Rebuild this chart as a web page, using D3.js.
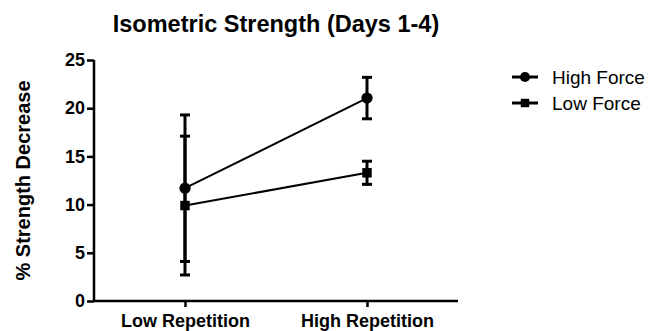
<!DOCTYPE html>
<html>
<head>
<meta charset="utf-8">
<script src="https://cdn.jsdelivr.net/npm/d3@7"></script>
<style>
  body { margin: 0; background: #fff; }
  text { font-family: "Liberation Sans", Arial, sans-serif; fill: #000; }
</style>
</head>
<body>
<svg id="chart" width="663" height="331"></svg>
<script>
const categories = ['Low Repetition', 'High Repetition']
const seriesNames = ['High Force', 'Low Force']
const highForce = [11.7, 21.05]
const highForceErr = [7.6, 2.15]
const lowForce = [9.9, 13.3]
const lowForceErr = [7.2, 1.2]
const yTicks = [0, 5, 10, 15, 20, 25]

let svg = d3.select('#chart')
let plotLeft = 94, plotRight = 458, plotTop = 60, plotBottom = 301

let x = d3.scalePoint().domain(categories).range([plotLeft, plotRight]).padding(0.5)
let y = d3.scaleLinear().domain([0, 25]).range([plotBottom, plotTop])

let series = [
  { name: seriesNames[0], values: highForce, err: highForceErr, shape: d3.symbolCircle, size: 100 },
  { name: seriesNames[1], values: lowForce, err: lowForceErr, shape: d3.symbolSquare, size: 90 }
]

// axes
let yAxis = svg.append('g')
  .attr('transform', `translate(${plotLeft},0)`)
  .call(d3.axisLeft(y).tickValues(yTicks).tickSize(7).tickPadding(2))
let xAxis = svg.append('g')
  .attr('transform', `translate(0,${plotBottom})`)
  .call(d3.axisBottom(x).tickSize(6).tickPadding(5))

;[yAxis, xAxis].forEach(ax => {
  ax.select('.domain').attr('stroke', '#000').attr('stroke-width', 2.5)
  ax.selectAll('.tick line').attr('stroke', '#000').attr('stroke-width', 2.5)
  ax.selectAll('text')
    .style('font-family', '"Liberation Sans", Arial, sans-serif')
    .style('font-weight', 'bold')
    .style('font-size', '18px')
    .attr('fill', '#000')
})
// squared-off domain (no outer ticks)
yAxis.select('.domain').attr('d', `M0,${plotTop}V${plotBottom}`)
xAxis.select('.domain').attr('d', `M${plotLeft},0H${plotRight}`)
xAxis.selectAll('text').attr('dy', '0.85em')

// lines between points
let line = d3.line().x((d, i) => x(categories[i])).y(d => y(d))
series.forEach(s => {
  svg.append('path')
    .attr('d', line(s.values))
    .attr('fill', 'none')
    .attr('stroke', '#000')
    .attr('stroke-width', 2)
})

// error bars
series.forEach(s => {
  let g = svg.append('g')
  s.values.forEach((v, i) => {
    let cx = x(categories[i])
    let lo = y(v - s.err[i]), hi = y(v + s.err[i])
    g.append('line').attr('x1', cx).attr('x2', cx).attr('y1', lo).attr('y2', hi)
      .attr('stroke', '#000').attr('stroke-width', 3)
    ;[lo, hi].forEach(yy => {
      g.append('line').attr('x1', cx - 5).attr('x2', cx + 5).attr('y1', yy).attr('y2', yy)
        .attr('stroke', '#000').attr('stroke-width', 3)
    })
  })
})

// markers
series.forEach(s => {
  svg.append('g').selectAll('path')
    .data(s.values)
    .enter()
    .append('path')
    .attr('d', d3.symbol().type(s.shape).size(s.size))
    .attr('transform', (d, i) => `translate(${x(categories[i])},${y(d)})`)
    .attr('fill', '#000')
})

// title
svg.append('text')
  .attr('x', (plotLeft + plotRight) / 2)
  .attr('y', 32)
  .attr('text-anchor', 'middle')
  .style('font-weight', 'bold')
  .style('font-size', '23.5px')
  .text('Isometric Strength (Days 1-4)')

// y label
svg.append('text')
  .attr('transform', `translate(30,${(plotTop + plotBottom) / 2}) rotate(-90)`)
  .attr('text-anchor', 'middle')
  .style('font-weight', 'bold')
  .style('font-size', '20px')
  .text('% Strength Decrease')

// legend
let legend = svg.append('g')
  .attr('transform', 'translate(525,77)')
  .selectAll('g')
  .data(series)
  .enter()
  .append('g')
  .attr('transform', (d, i) => `translate(0,${i * 26})`)

legend.append('line')
  .attr('x1', -13).attr('x2', 13)
  .attr('stroke', '#000').attr('stroke-width', 3)
legend.append('path')
  .attr('d', d => d3.symbol().type(d.shape).size(d.size * 0.8)())
  .attr('fill', '#000')
legend.append('text')
  .attr('x', 27)
  .attr('dy', '0.35em')
  .style('font-size', '19px')
  .text(d => d.name)
</script>
</body>
</html>
